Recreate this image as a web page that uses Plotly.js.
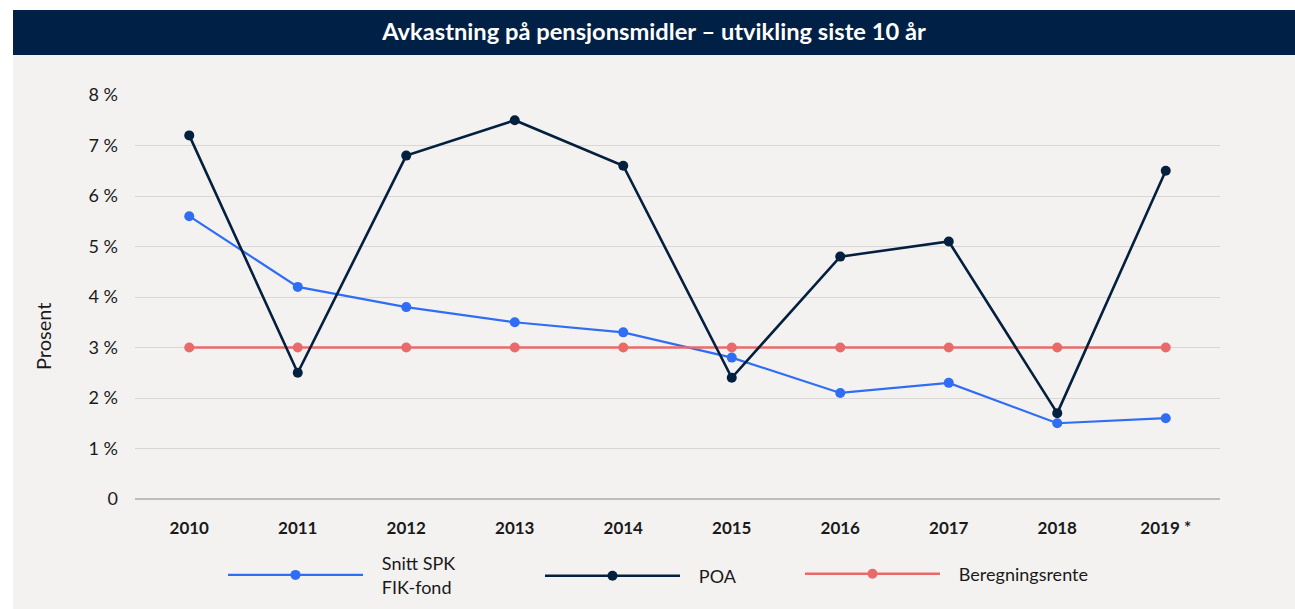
<!DOCTYPE html>
<html>
<head>
<meta charset="utf-8">
<script src="https://cdn.plot.ly/plotly-3.0.1.min.js"></script>
<style>html,body{margin:0;padding:0;background:#fff;}#chart{width:1295px;height:609px;}</style>
</head>
<body>
<div id="chart"></div>
<script>
var years = ['2010','2011','2012','2013','2014','2015','2016','2017','2018','2019 *'];
var snittSPK = [5.6, 4.2, 3.8, 3.5, 3.3, 2.8, 2.1, 2.3, 1.5, 1.6];
var poa = [7.2, 2.5, 6.8, 7.5, 6.6, 2.4, 4.8, 5.1, 1.7, 6.5];
var beregningsrente = [3, 3, 3, 3, 3, 3, 3, 3, 3, 3];
var yTickVals = [0, 1, 2, 3, 4, 5, 6, 7, 8];
var yTickText = ['0', '1 %', '2 %', '3 %', '4 %', '5 %', '6 %', '7 %', '8 %'];
var seriesNames = ['Snitt SPK<br>FIK-fond', 'POA', 'Beregningsrente'];

var FONT = 'Lato, "Noto Sans", sans-serif';
var PAD = '\u00a0\u00a0\u00a0';
function padName(n) { return n.split('<br>').map(function (s) { return PAD + s; }).join('<br>'); }

var traces = [
  {x: years, y: snittSPK, name: padName(seriesNames[0]), type: 'scatter', mode: 'lines+markers',
   line: {color: '#2f6df5', width: 2.2}, marker: {color: '#2f6df5', size: 10}, legend: 'legend'},
  {x: years, y: beregningsrente, name: padName(seriesNames[2]), type: 'scatter', mode: 'lines+markers',
   line: {color: '#e86a6b', width: 2.6}, marker: {color: '#e86a6b', size: 10}, legend: 'legend3'},
  {x: years, y: poa, name: padName(seriesNames[1]), type: 'scatter', mode: 'lines+markers',
   line: {color: '#04203f', width: 2.6}, marker: {color: '#04203f', size: 10}, legend: 'legend2'}
];

var PL = 135, PW = 1085, PB = 499, PH = 404;
function leg(px, py) {
  return {x: (px - PL) / PW, xref: 'paper', y: (PB - py) / PH, yref: 'paper', yanchor: 'middle', xanchor: 'left',
    bgcolor: 'rgba(0,0,0,0)', font: {family: FONT, size: 18, color: '#1a1a1a'}, itemwidth: 135};
}

var layout = {
  width: 1295, height: 609,
  paper_bgcolor: '#f4f2f1', plot_bgcolor: '#f4f2f1',
  margin: {l: 135, r: 75, t: 95, b: 110, autoexpand: false},
  font: {family: FONT, color: '#1a1a1a'},
  title: {text: '<b>Avkastning på pensjonsmidler – utvikling siste 10 år</b>',
    font: {family: FONT, size: 23.7, color: '#ffffff'},
    x: 654/1295, xref: 'container', xanchor: 'center',
    y: 1 - 32/609, yref: 'container', yanchor: 'middle'},
  xaxis: {type: 'category', range: [-0.5, 9.5], showgrid: false, zeroline: false, showline: false, automargin: false,
    ticks: '', tickfont: {family: FONT, size: 17, color: '#1a1a1a', weight: 'bold'},
    ticklabelstandoff: 17, fixedrange: true},
  yaxis: {range: [0, 8], tickvals: yTickVals, ticktext: yTickText, showgrid: true, automargin: false,
    gridcolor: '#d9d7d6', gridwidth: 1, zeroline: true, zerolinecolor: '#bdbcbb', zerolinewidth: 1.5,
    showline: false, ticks: '', ticklabelstandoff: 16,
    tickfont: {family: FONT, size: 18, color: '#1a1a1a'}},
  showlegend: true,
  legend: leg(223, 575), legend2: leg(540, 576), legend3: leg(800, 574),
  annotations: [
    {text: 'Prosent', xref: 'paper', yref: 'paper', x: (43 - PL) / PW, y: (PB - 337) / PH,
     xanchor: 'center', yanchor: 'middle', textangle: -90, showarrow: false,
     font: {family: FONT, size: 20, color: '#1a1a1a'}}
  ],
  shapes: [
    {type: 'rect', xref: 'paper', yref: 'paper', x0: -0.2, x1: 1.1, y0: (PB-10)/PH, y1: 1.3,
     fillcolor: '#ffffff', line: {width: 0}, layer: 'below'},
    {type: 'rect', xref: 'paper', yref: 'paper', x0: -0.2, x1: (13-PL)/PW, y0: -0.4, y1: 1.3,
     fillcolor: '#ffffff', line: {width: 0}, layer: 'below'},
    {type: 'rect', xref: 'paper', yref: 'paper', x0: (13-PL)/PW, x1: 1.1, y0: (PB-55)/PH, y1: (PB-10)/PH,
     fillcolor: '#002045', line: {width: 0}, layer: 'below'}
  ]
};
Plotly.newPlot('chart', traces, layout, {displayModeBar: false, staticPlot: true});
</script>
</body>
</html>
